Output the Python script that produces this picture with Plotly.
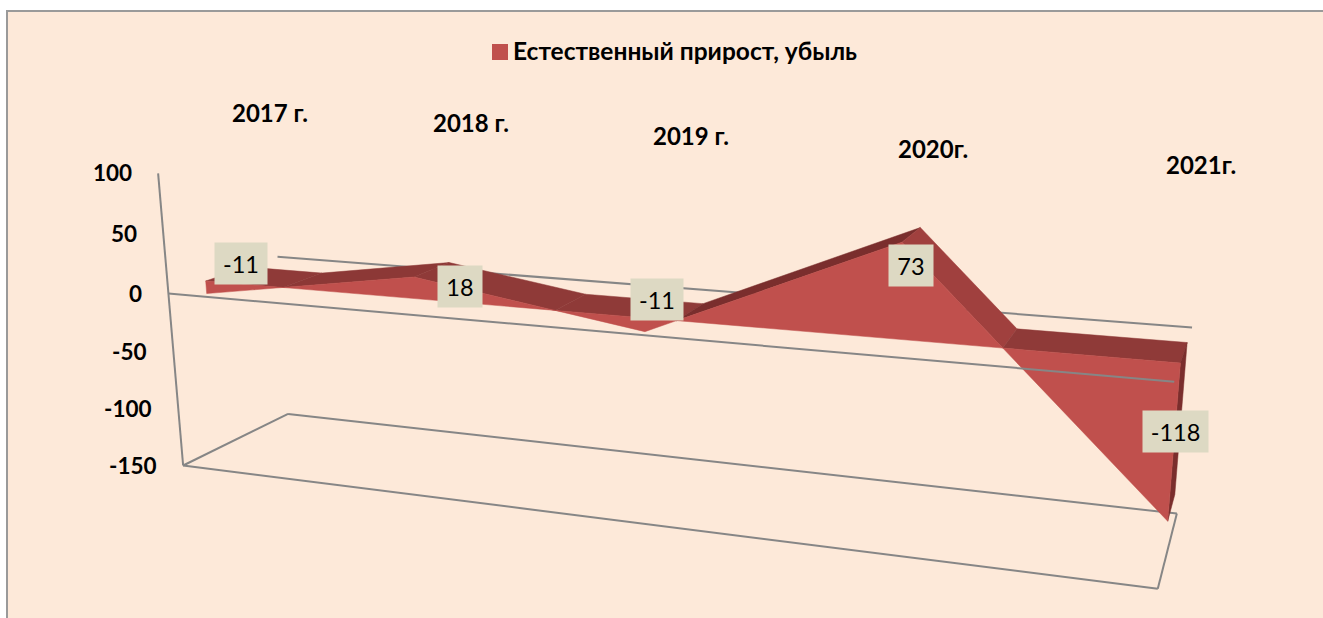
import numpy as np
import plotly.graph_objects as go

# ---------- data ----------
YEARS = ["2017 г.", "2018 г.", "2019 г.", "2020г.", "2021г."]
VALUES = [-11, 18, -11, 73, -118]
SERIES_NAME = "Естественный прирост, убыль"
Y_TICKS = [100, 50, 0, -50, -100, -150]

# ---------- style ----------
W, H = 1323, 618
BG = "#FDE9D9"
BORDER = "#9A9A9A"
GRID = "#868686"
FRONT = "#C0504D"
FLAT = "#8F3A38"
SEG_SHADE = ["#8C3836", "#8F3A38", "#7A2E2D", "#A0403E"]
SIDE = "#7A2E2D"
LABEL_BG = "#DDD9C3"
FONT = "Lato, Carlito, 'Open Sans', sans-serif"
LABEL_BOXES = [(241, 263.5, 52, 41), (460, 286.5, 44, 41), (657, 299.5, 52, 41),
               (911, 265.5, 44, 41), (1175.5, 431.5, 65, 41)]
CAT_POS = [(270, 112.5), (471, 122.5), (691, 135.5), (933, 148.5), (1201, 164.5)]

# ---------- projection of the 3-D box, fitted on its corners ----------
T0, T1 = 0, len(VALUES) - 1
VMAX, VZERO, VMIN = Y_TICKS[0], 0, Y_TICKS[-1]
DA, DB = 0.32, 0.70   # depth of the area slab inside the box
CAL = [
    ((T0, 0, VMAX), (158, 172)), ((T0, 0, VZERO), (170, 293)), ((T0, 0, VMIN), (183, 465)),
    ((T1, 0, VZERO), (1175, 382)), ((T1, 0, VMIN), (1158, 589)),
    ((T0, 1, VZERO), (278, 257)), ((T0, 1, VMIN), (288, 414)),
    ((T1, 1, VZERO), (1192, 327)), ((T1, 1, VMIN), (1178, 515)),
    ((T0, DA, VZERO), (204, 283)), ((T1, DA, VZERO), (1180, 364)),
    ((T1, DA, -118), (1167, 523)), ((T1, DB, VZERO), (1187, 343)),
    ((T1, DB, -118), (1174, 490)),
]
def _norm(p):
    return (p[0] / 4.0, p[1], p[2] / 150.0)
_A = []
for w, (u, v) in CAL:
    X, Y, Z = _norm(w)
    u, v = u / 1000.0, v / 1000.0
    _A.append([X, Y, Z, 1, 0, 0, 0, 0, -u * X, -u * Y, -u * Z, -u])
    _A.append([0, 0, 0, 0, X, Y, Z, 1, -v * X, -v * Y, -v * Z, -v])
P = np.linalg.svd(np.array(_A))[2][-1].reshape(3, 4)

def proj(t, d, v):
    X, Y, Z = _norm((t, d, v))
    q = P @ np.array([X, Y, Z, 1.0])
    return q[0] / q[2] * 1000.0, q[1] / q[2] * 1000.0

fig = go.Figure()

def poly(points, color, name=None):
    xs, ys = zip(*[proj(*p) for p in points])
    fig.add_trace(go.Scatter(x=list(xs) + [xs[0]], y=list(ys) + [ys[0]], mode="lines", fill="toself",
                             fillcolor=color, line=dict(color=color, width=0.5),
                             hoverinfo="skip", showlegend=False, name=name))

def line(a, b, width=2):
    xs, ys = zip(proj(*a), proj(*b))
    fig.add_trace(go.Scatter(x=list(xs), y=list(ys), mode="lines", line=dict(color=GRID, width=width),
                             hoverinfo="skip", showlegend=False))

# floor and back grid line
line((T0, 0, VMIN), (T1, 0, VMIN))
line((T1, 0, VMIN), (T1, 1, VMIN))
line((T1, 1, VMIN), (T0, 1, VMIN))
line((T0, 1, VMIN), (T0, 0, VMIN))
line((T0, 1, VZERO), (T1, 1, VZERO))

# profile with its zero crossings
profile = []
for i, v in enumerate(VALUES):
    profile.append((float(i), float(v), i))
    if i < T1 and v * VALUES[i + 1] < 0:
        profile.append((i + v / (v - VALUES[i + 1]), 0.0, i))

# top surface of the slab (only what lies above zero slopes; below zero the zero plane shows)
for (t1, v1, s1), (t2, v2, _) in zip(profile, profile[1:]):
    a, b = max(v1, 0), max(v2, 0)
    col = FLAT if a == 0 and b == 0 else SEG_SHADE[s1]
    poly([(t1, DA, a), (t2, DA, b), (t2, DB, b), (t1, DB, a)], col)

# right side
poly([(T1, DA, 0), (T1, DB, 0), (T1, DB, VALUES[-1]), (T1, DA, VALUES[-1])], SIDE)

# front face
front = [(t, DA, v) for t, v, _ in profile] + [(T1, DA, 0), (T0, DA, 0)]
poly(front, FRONT, SERIES_NAME)

# front zero line and value axis
line((T0, 0, VZERO), (T1, 0, VZERO))
line((T0, 0, VMAX), (T0, 0, VMIN))

# legend entry: swatch and text
fig.add_trace(go.Scatter(x=[500], y=[52], mode="markers", marker=dict(symbol="square", size=16, color=FRONT),
                         hoverinfo="skip", showlegend=False))

annots = [dict(x=511, y=50.5, xref="x", yref="y", text=SERIES_NAME, showarrow=False, xanchor="left",
               yanchor="middle", font=dict(family=FONT, size=24.5, color="black", weight="bold"))]
for tick in Y_TICKS:
    px, py = proj(T0, 0, tick)
    annots.append(dict(x=px - 24, y=py - 0.5, xref="x", yref="y", text=str(tick), showarrow=False,
                       xanchor="right", yanchor="middle",
                       font=dict(family=FONT, size=22.5, color="black", weight="bold")))
for name, (cx, cy) in zip(YEARS, CAT_POS):
    annots.append(dict(x=cx, y=cy, xref="x", yref="y", text=name, showarrow=False,
                       font=dict(family=FONT, size=24, color="black", weight="bold")))
for v, (cx, cy, bw, bh) in zip(VALUES, LABEL_BOXES):
    annots.append(dict(x=cx, y=cy, xref="x", yref="y", text=str(v), showarrow=False,
                       width=bw, height=bh, bgcolor=LABEL_BG, borderpad=0, align="center", valign="middle",
                       font=dict(family=FONT, size=23.5, color="black")))

fig.update_layout(
    width=W, height=H, margin=dict(l=0, r=0, t=0, b=0),
    paper_bgcolor="white", plot_bgcolor="white",
    xaxis=dict(range=[0, W], visible=False, fixedrange=True),
    yaxis=dict(range=[H, 0], visible=False, fixedrange=True),
    shapes=[dict(type="rect", xref="x", yref="y", x0=7, y0=11, x1=W + 20, y1=H + 20,
                 fillcolor=BG, line=dict(color=BORDER, width=2), layer="below")],
    annotations=annots,
    showlegend=False,
)
fig.write_html("out.html", config={"displayModeBar": False},
               post_script="document.body.style.margin='0';document.documentElement.style.overflow='hidden';")
